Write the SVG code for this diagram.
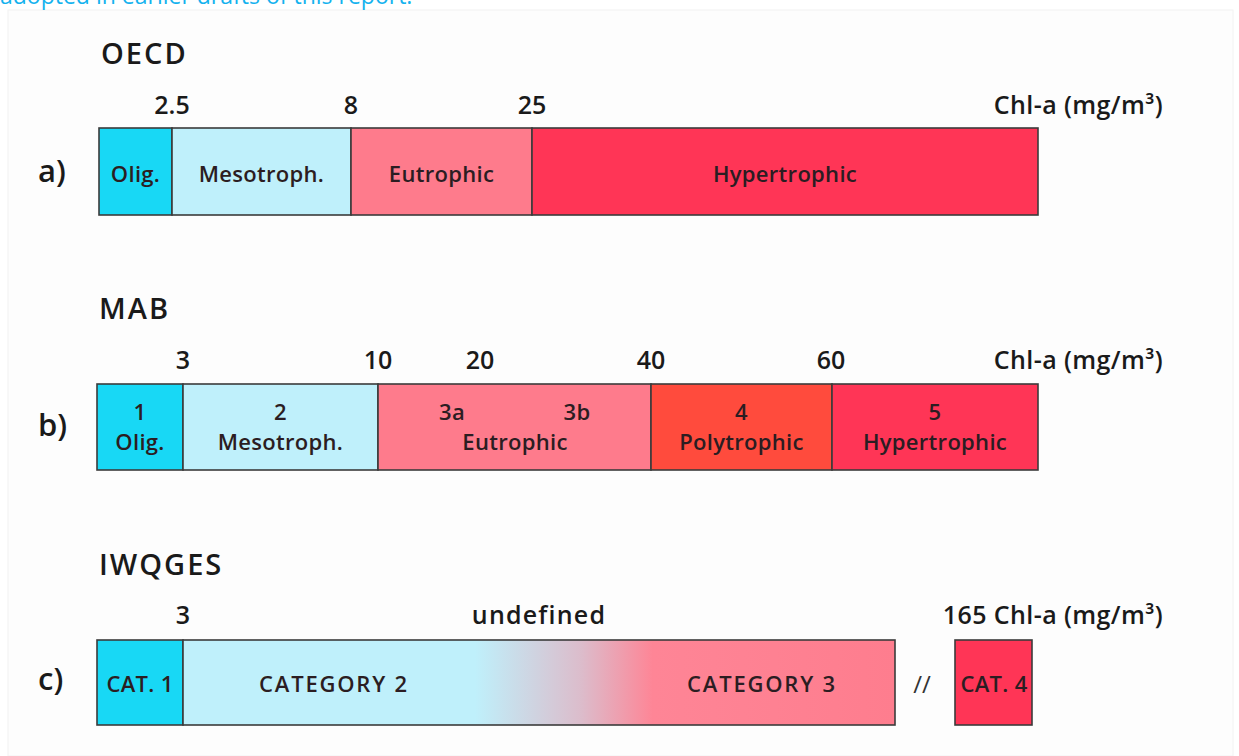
<svg xmlns="http://www.w3.org/2000/svg" width="1239" height="756" viewBox="0 0 1239 756">
  <defs>
    <linearGradient id="catGrad" gradientUnits="userSpaceOnUse" x1="183" y1="0" x2="895" y2="0">
      <stop offset="0" stop-color="#bff0fb"/>
      <stop offset="0.41" stop-color="#bff0fb"/>
      <stop offset="0.56" stop-color="#dcbccb"/>
      <stop offset="0.66" stop-color="#fe8596"/>
      <stop offset="1" stop-color="#fe7d8e"/>
    </linearGradient>
  </defs>
  <style>
    .cell { stroke: #3b3b3b; stroke-width: 1.6; }
    .olig { fill: #18d8f5; }
    .meso { fill: #bff0fb; }
    .eu { fill: #fe7b8c; }
    .hyper { fill: #ff3556; }
    .poly { fill: #ff4b3d; }
    .lbl { font-family: "Open Sans", "Noto Sans", sans-serif; font-weight: 600; font-size: 22px; letter-spacing: 0.3px; fill: #2b1d22; text-anchor: middle; }
    .cat { letter-spacing: 1.8px; }
    .tick { font-family: "Open Sans", "Noto Sans", sans-serif; font-weight: 600; font-size: 25px; fill: #1a1a1a; text-anchor: middle; }
    .unit { font-family: "Open Sans", "Noto Sans", sans-serif; font-weight: 600; font-size: 25px; letter-spacing: 0.4px; fill: #1a1a1a; text-anchor: end; }
    .title { font-family: "Open Sans", "Noto Sans", sans-serif; font-weight: 600; font-size: 29px; fill: #1a1a1a; letter-spacing: 2px; }
    .row { font-family: "Open Sans", "Noto Sans", sans-serif; font-weight: 600; font-size: 31px; fill: #1a1a1a; }
  </style>

  <rect width="1239" height="756" fill="#ffffff"/>
  <rect x="8" y="10" width="1225" height="746" fill="#fdfdfd" stroke="#f2f2f2" stroke-width="1"/>
  <text x="0" y="4" font-family="'Open Sans', 'Noto Sans', sans-serif" font-size="23" fill="#14b2ee">adopted in earlier drafts of this report.</text>

  <!-- a) OECD scale -->
  <g id="oecd">
    <text class="title" x="101" y="64">OECD</text>
    <text class="row" x="38" y="182">a)</text>
    <text class="tick" x="172" y="114">2.5</text>
    <text class="tick" x="351" y="114">8</text>
    <text class="tick" x="532" y="114">25</text>
    <text class="unit" x="1163" y="114">Chl-a (mg/m³)</text>
    <g id="oecd-olig"><rect class="cell olig" x="99" y="128" width="73" height="87"/><text class="lbl" x="135.5" y="182">Olig.</text></g>
    <g id="oecd-meso"><rect class="cell meso" x="172" y="128" width="179" height="87"/><text class="lbl" x="261.5" y="182">Mesotroph.</text></g>
    <g id="oecd-eu"><rect class="cell eu" x="351" y="128" width="181" height="87"/><text class="lbl" x="441.5" y="182">Eutrophic</text></g>
    <g id="oecd-hyper"><rect class="cell hyper" x="532" y="128" width="506" height="87"/><text class="lbl" x="785" y="182">Hypertrophic</text></g>
  </g>

  <!-- b) MAB scale -->
  <g id="mab">
    <text class="title" x="99" y="319">MAB</text>
    <text class="row" x="38" y="436">b)</text>
    <text class="tick" x="183" y="369">3</text>
    <text class="tick" x="378" y="369">10</text>
    <text class="tick" x="480" y="369">20</text>
    <text class="tick" x="651" y="369">40</text>
    <text class="tick" x="831" y="369">60</text>
    <text class="unit" x="1163" y="369">Chl-a (mg/m³)</text>
    <g id="mab-1"><rect class="cell olig" x="97" y="384" width="86" height="86"/><text class="lbl" x="140" y="420">1</text><text class="lbl" x="140" y="450">Olig.</text></g>
    <g id="mab-2"><rect class="cell meso" x="183" y="384" width="195" height="86"/><text class="lbl" x="280.5" y="420">2</text><text class="lbl" x="280.5" y="450">Mesotroph.</text></g>
    <g id="mab-3"><rect class="cell eu" x="378" y="384" width="273" height="86"/><text class="lbl" x="452" y="420">3a</text><text class="lbl" x="577" y="420">3b</text><text class="lbl" x="515" y="450">Eutrophic</text></g>
    <g id="mab-4"><rect class="cell poly" x="651" y="384" width="181" height="86"/><text class="lbl" x="741.5" y="420">4</text><text class="lbl" x="741.5" y="450">Polytrophic</text></g>
    <g id="mab-5"><rect class="cell hyper" x="832" y="384" width="206" height="86"/><text class="lbl" x="935" y="420">5</text><text class="lbl" x="935" y="450">Hypertrophic</text></g>
  </g>

  <!-- c) IWQGES scale -->
  <g id="iwqges">
    <text class="title" x="99" y="575">IWQGES</text>
    <text class="row" x="38" y="690">c)</text>
    <text class="tick" x="183" y="624">3</text>
    <text class="tick" x="539" y="624" style="letter-spacing:1.2px">undefined</text>
    <text class="unit" x="1163" y="624">165 Chl-a (mg/m³)</text>
    <g id="cat-1"><rect class="cell olig" x="97" y="640" width="86" height="85"/><text class="lbl" x="140" y="692">CAT. 1</text></g>
    <g id="cat-2-3"><rect class="cell" fill="url(#catGrad)" x="183" y="640" width="712" height="85"/>
      <text class="lbl cat" x="334" y="692">CATEGORY 2</text>
      <text class="lbl cat" x="762" y="692">CATEGORY 3</text></g>
    <text x="922" y="693" font-family="'Open Sans', 'Noto Sans', sans-serif" font-size="24" fill="#333" text-anchor="middle">//</text>
    <g id="cat-4"><rect class="cell hyper" x="955" y="640" width="77" height="85"/><text class="lbl" x="994" y="692">CAT. 4</text></g>
  </g>
</svg>
